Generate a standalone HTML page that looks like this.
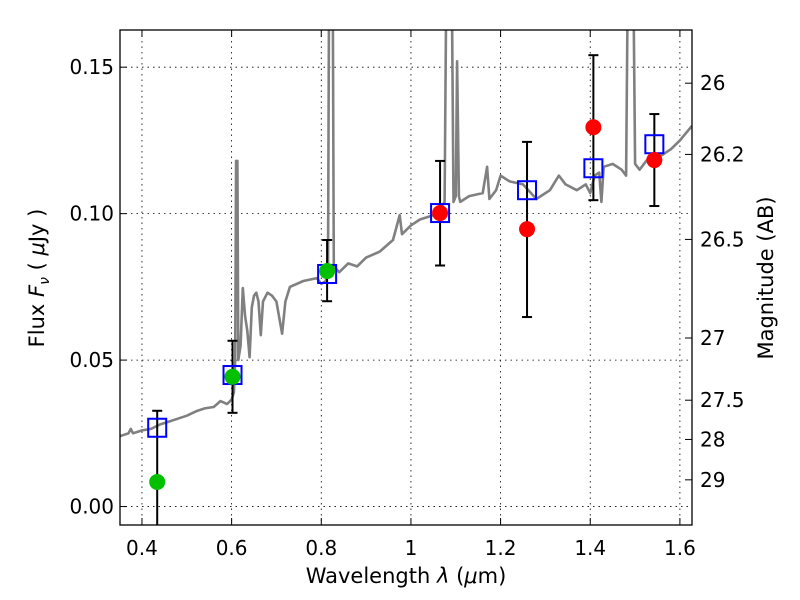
<!DOCTYPE html>
<html><head><meta charset="utf-8"><style>
html,body{margin:0;padding:0;background:#fff}
svg{display:block;font-family:"DejaVu Sans","Liberation Sans",sans-serif}
</style></head><body>
<svg id="chart" width="800" height="600" viewBox="0 0 800 600" xmlns="http://www.w3.org/2000/svg">
<defs><clipPath id="plotclip"><rect x="120" y="30" width="572" height="495"/></clipPath></defs>
<rect x="0" y="0" width="800" height="600" fill="#fff"/>
<g id="grid"></g>
<g id="spec" clip-path="url(#plotclip)"></g>
<g id="marks" clip-path="url(#plotclip)"></g>
<g id="axes"></g>
<text x="406" y="583" font-size="21" text-anchor="middle">Wavelength  <tspan font-style="italic">λ</tspan> (<tspan font-style="italic">μ</tspan>m)</text>
<text transform="translate(44,278) rotate(-90)" font-size="21" text-anchor="middle">Flux  <tspan font-style="italic">F</tspan><tspan font-style="italic" font-size="14" dy="5">ν</tspan><tspan dy="-5">  (  </tspan><tspan font-style="italic">μ</tspan>Jy )</text>
<text transform="translate(773,278) rotate(-90)" font-size="21" text-anchor="middle">Magnitude (AB)</text>
</svg>
<script>
const xTicks = [0.4, 0.6, 0.8, 1.0, 1.2, 1.4, 1.6];
const xTickLabels = ["0.4", "0.6", "0.8", "1", "1.2", "1.4", "1.6"];
const yTicks = [0.0, 0.05, 0.10, 0.15];
const yTickLabels = ["0.00", "0.05", "0.10", "0.15"];
const magTicks = [26, 26.2, 26.5, 27, 27.5, 28, 29];
const magTickLabels = ["26", "26.2", "26.5", "27", "27.5", "28", "29"];
const modelWave = [0.434, 0.602, 0.813, 1.065, 1.259, 1.407, 1.543];
const modelFlux = [0.0269, 0.0449, 0.0794, 0.1002, 0.108, 0.1155, 0.1237];
const greenWave = [0.434, 0.602, 0.813];
const greenFlux = [0.0084, 0.0443, 0.0804];
const greenLo = [-0.02, 0.032, 0.0701];
const greenHi = [0.0327, 0.0566, 0.091];
const redWave = [1.065, 1.259, 1.407, 1.543];
const redFlux = [0.1002, 0.0947, 0.1295, 0.1183];
const redLo = [0.0823, 0.0647, 0.1046, 0.1026];
const redHi = [0.118, 0.1245, 0.1541, 0.134];
const specX = [0.35,0.36,0.37,0.375,0.38,0.40,0.42,0.44,0.46,0.48,0.50,0.52,0.54,0.56,0.575,0.59,0.60,0.605,0.608,0.610,0.613,0.615,0.62,0.625,0.63,0.635,0.64,0.645,0.65,0.655,0.66,0.665,0.67,0.68,0.69,0.70,0.7125,0.72,0.73,0.76,0.79,0.80,0.81,0.815,0.818,0.825,0.828,0.84,0.86,0.88,0.90,0.93,0.96,0.975,0.98,1.0,1.02,1.04,1.06,1.075,1.08,1.09,1.095,1.10,1.103,1.107,1.11,1.13,1.16,1.17,1.175,1.19,1.20,1.22,1.25,1.28,1.31,1.33,1.345,1.37,1.39,1.40,1.41,1.42,1.425,1.43,1.45,1.47,1.48,1.485,1.495,1.50,1.51,1.53,1.56,1.58,1.60,1.627];
const specY = [0.024,0.0245,0.025,0.0265,0.025,0.026,0.0265,0.028,0.029,0.030,0.031,0.0325,0.0335,0.034,0.036,0.035,0.0365,0.039,0.05,0.118,0.118,0.05,0.055,0.0746,0.065,0.06,0.051,0.068,0.072,0.073,0.07,0.0585,0.07,0.073,0.072,0.07,0.059,0.07,0.075,0.077,0.078,0.076,0.077,0.08,0.2,0.2,0.082,0.080,0.083,0.082,0.085,0.087,0.091,0.0995,0.093,0.096,0.098,0.099,0.100,0.104,0.2,0.2,0.104,0.106,0.152,0.106,0.104,0.106,0.107,0.116,0.105,0.108,0.113,0.111,0.110,0.105,0.108,0.113,0.110,0.108,0.110,0.107,0.113,0.114,0.104,0.116,0.117,0.115,0.113,0.2,0.2,0.117,0.115,0.119,0.120,0.122,0.125,0.130];

const NS = "http://www.w3.org/2000/svg";
const L = 120, R = 692, T = 30, B = 525;
const xMin = 0.351, xMax = 1.627, yMin = -0.0063, yMax = 0.1627;
function sx(v){ return L + (v - xMin) / (xMax - xMin) * (R - L); }
function sy(v){ return B - (v - yMin) / (yMax - yMin) * (B - T); }
function mk(tag, attrs, parent){ const e = document.createElementNS(NS, tag); for (const k in attrs) e.setAttribute(k, attrs[k]); parent.appendChild(e); return e; }

const grid = document.getElementById('grid');
const axes = document.getElementById('axes');
const spec = document.getElementById('spec');
const marks = document.getElementById('marks');

xTicks.forEach((t, i) => {
  const x = sx(t);
  const g = mk('line', {x1:x, x2:x, y1:T, y2:B, stroke:'#000', 'stroke-width':0.8, 'stroke-dasharray':'1.5,4'}, grid);
  
  
  mk('line', {x1:x, x2:x, y1:B, y2:B-7, stroke:'#000', 'stroke-width':1}, axes);
  mk('line', {x1:x, x2:x, y1:T, y2:T+7, stroke:'#000', 'stroke-width':1}, axes);
  const lb = mk('text', {x:x, y:555, 'font-size':20, 'text-anchor':'middle'}, axes);
  lb.textContent = xTickLabels[i];
  
  
});
yTicks.forEach((t, i) => {
  const y = sy(t);
  const g = mk('line', {x1:L, x2:R, y1:y, y2:y, stroke:'#000', 'stroke-width':0.8, 'stroke-dasharray':'1.5,4'}, grid);
  
  
  mk('line', {x1:L, x2:L+7, y1:y, y2:y, stroke:'#000', 'stroke-width':1}, axes);
  const lb = mk('text', {x:114, y:y+7, 'font-size':20, 'text-anchor':'end'}, axes);
  lb.textContent = yTickLabels[i];
  
  
});
magTicks.forEach((m, i) => {
  const y = sy(Math.pow(10, (23.9 - m) / 2.5));
  mk('line', {x1:R-7, x2:R, y1:y, y2:y, stroke:'#000', 'stroke-width':1}, axes);
  const lb = mk('text', {x:700, y:y+7, 'font-size':20, 'text-anchor':'start'}, axes);
  lb.textContent = magTickLabels[i];
  
  
});
const frame = mk('rect', {x:L, y:T, width:R-L, height:B-T, fill:'none', stroke:'#000', 'stroke-width':1.3}, axes);



const pts = specX.map((x, i) => sx(x).toFixed(1) + ',' + sy(specY[i]).toFixed(1)).join(' ');
const sl = mk('polyline', {points:pts, fill:'none', stroke:'#808080', 'stroke-width':2.6, 'stroke-linejoin':'round'}, spec);



function errbar(w, lo, hi){
  const x = sx(w);
  const e = mk('g', {stroke:'#000', 'stroke-width':2}, marks);
  
  
  mk('line', {x1:x, x2:x, y1:sy(lo), y2:sy(hi)}, e);
  mk('line', {x1:x-5, x2:x+5, y1:sy(lo), y2:sy(lo)}, e);
  mk('line', {x1:x-5, x2:x+5, y1:sy(hi), y2:sy(hi)}, e);
}
greenWave.forEach((w, i) => errbar(w, greenLo[i], greenHi[i]));
redWave.forEach((w, i) => errbar(w, redLo[i], redHi[i]));
modelWave.forEach((w, i) => {
  const s = mk('rect', {x:sx(w)-9, y:sy(modelFlux[i])-9, width:18, height:18, fill:'none', stroke:'#0000ff', 'stroke-width':2}, marks);
  
  
});
greenWave.forEach((w, i) => {
  const c = mk('circle', {cx:sx(w), cy:sy(greenFlux[i]), r:8, fill:'#00c000'}, marks);
  
  
});
redWave.forEach((w, i) => {
  const c = mk('circle', {cx:sx(w), cy:sy(redFlux[i]), r:8, fill:'#ff0000'}, marks);
  
  
});
</script>
</body></html>
